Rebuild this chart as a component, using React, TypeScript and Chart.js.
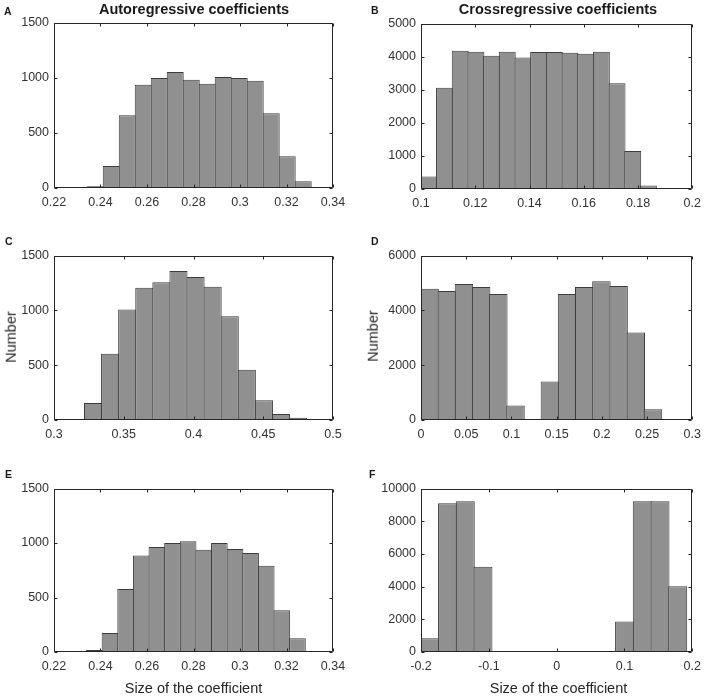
import React, { useEffect, useRef, useState } from "react";
import { Chart, registerables } from "chart.js";

Chart.register(...registerables);

// ---------- DATA ----------
// Panel A: autoregressive coefficients (histogram)
const aBinStart = 0.2343;
const aBinWidth = 0.00688;
const aCounts = [15, 199, 659, 936, 998, 1051, 980, 944, 1007, 998, 971, 677, 288, 62, 9];
const aXTicks = [0.22, 0.24, 0.26, 0.28, 0.3, 0.32, 0.34];
const aYTicks = [0, 500, 1000, 1500];

// Panel B: crossregressive coefficients
const bBinStart = 0.1;
const bBinWidth = 0.00578;
const bCounts = [376, 3059, 4178, 4148, 4029, 4148, 3970, 4138, 4138, 4118, 4089, 4148, 3198, 1148, 109];
const bXTicks = [0.1, 0.12, 0.14, 0.16, 0.18, 0.2];
const bYTicks = [0, 1000, 2000, 3000, 4000, 5000];

// Panel C
const cBinStart = 0.3096;
const cBinWidth = 0.01225;
const cCounts = [9, 156, 603, 1008, 1206, 1257, 1359, 1305, 1215, 945, 459, 180, 54, 21, 9];
const cXTicks = [0.3, 0.35, 0.4, 0.45, 0.5];
const cYTicks = [0, 500, 1000, 1500];

// Panel D
const dBinStart = 0;
const dBinWidth = 0.019;
const dCounts = [4788, 4704, 4956, 4848, 4596, 528, 0, 1404, 4596, 4848, 5064, 4884, 3192, 396, 36];
const dXTicks = [0, 0.05, 0.1, 0.15, 0.2, 0.25, 0.3];
const dYTicks = [0, 2000, 4000, 6000];

// Panel E
const eBinStart = 0.234;
const eBinWidth = 0.00672;
const eCounts = [18, 174, 579, 885, 963, 999, 1017, 939, 999, 945, 909, 792, 384, 126, 9];
const eXTicks = [0.22, 0.24, 0.26, 0.28, 0.3, 0.32, 0.34];
const eYTicks = [0, 500, 1000, 1500];

// Panel F
const fBinStart = -0.2;
const fBinWidth = 0.0261;
const fCounts = [840, 9100, 9220, 5220, 0, 0, 0, 0, 0, 0, 0, 1860, 9220, 9220, 4020];
const fXTicks = [-0.2, -0.1, 0, 0.1, 0.2];
const fYTicks = [0, 2000, 4000, 6000, 8000, 10000];

const columnTitles = ["Autoregressive coefficients", "Crossregressive coefficients"];
const panelLetters = ["A", "B", "C", "D", "E", "F"];
const yAxisLabel = "Number";
const xAxisLabel = "Size of the coefficient";

// ---------- STYLE / LAYOUT ----------
const FONT = "'Liberation Sans', Arial, Helvetica, sans-serif";
const BAR_FILL = "#909090";
const BAR_EDGE = "#3c3c3c";
const AXIS_COLOR = "#262626";
const TICK_TEXT = "#333333";

type PanelCfg = {
  start: number;
  width: number;
  counts: number[];
  xTicks: number[];
  yTicks: number[];
  L: number;
  T: number;
  R: number;
  B: number;
  padR: number;
};

const panels: PanelCfg[] = [
  { start: aBinStart, width: aBinWidth, counts: aCounts, xTicks: aXTicks, yTicks: aYTicks, L: 54, T: 20, R: 333, B: 188, padR: 20 },
  { start: bBinStart, width: bBinWidth, counts: bCounts, xTicks: bXTicks, yTicks: bYTicks, L: 421, T: 21, R: 697, B: 189, padR: 11 },
  { start: cBinStart, width: cBinWidth, counts: cCounts, xTicks: cXTicks, yTicks: cYTicks, L: 54, T: 253, R: 333, B: 420, padR: 20 },
  { start: dBinStart, width: dBinWidth, counts: dCounts, xTicks: dXTicks, yTicks: dYTicks, L: 421, T: 253, R: 697, B: 420, padR: 11 },
  { start: eBinStart, width: eBinWidth, counts: eCounts, xTicks: eXTicks, yTicks: eYTicks, L: 54, T: 486, R: 333, B: 652, padR: 20 },
  { start: fBinStart, width: fBinWidth, counts: fCounts, xTicks: fXTicks, yTicks: fYTicks, L: 421, T: 486, R: 697, B: 652, padR: 11 },
];

const Y_AXIS_W = 50;
const X_AXIS_H = 30;
const PAD_TOP = 10;

const fmt = (v: number) => String(Number(Number(v).toFixed(6)));

let lastError = "";

function drawBox(chart: any) {
  try {
    const { ctx, chartArea: a, scales } = chart;
    const TL = 3;
    ctx.save();
    ctx.strokeStyle = AXIS_COLOR;
    ctx.lineWidth = 1;
    const l = Math.round(a.left) + 0.5;
    const r = Math.round(a.right) - 0.5;
    const t = Math.round(a.top) + 0.5;
    const b = Math.round(a.bottom) - 0.5;
    ctx.beginPath();
    ctx.moveTo(l, t);
    ctx.lineTo(r, t);
    ctx.lineTo(r, b);
    ctx.lineTo(l, b);
    ctx.closePath();
    const xs = scales.x;
    const ys = scales.y;
    for (const tk of xs.ticks) {
      const x = Math.round(xs.getPixelForValue(tk.value)) + 0.5;
      ctx.moveTo(x, b);
      ctx.lineTo(x, b - TL);
      ctx.moveTo(x, t);
      ctx.lineTo(x, t + TL);
    }
    for (const tk of ys.ticks) {
      const y = Math.round(ys.getPixelForValue(tk.value)) + 0.5;
      ctx.moveTo(l, y);
      ctx.lineTo(l + TL, y);
      ctx.moveTo(r, y);
      ctx.lineTo(r - TL, y);
    }
    ctx.stroke();
    ctx.restore();
  } catch (e: any) {
    lastError = String(e && e.message ? e.message : e);
  }
}

const boxPlugin = {
  id: "boxTicks",
  afterDraw(chart: any) {
    drawBox(chart);
  },
};

function Panel({ cfg }: { cfg: PanelCfg }) {
  const ref = useRef<HTMLCanvasElement>(null);
  const w = cfg.R - cfg.L + Y_AXIS_W + cfg.padR;
  const h = cfg.B - cfg.T + PAD_TOP + X_AXIS_H;

  useEffect(() => {
    const counts = cfg.counts;
    const xMin = cfg.xTicks[0];
    const xMax = cfg.xTicks[cfg.xTicks.length - 1];
    const barPx = (cfg.width / (xMax - xMin)) * (cfg.R - cfg.L) + 1;
    const data = counts.map((c, i) => ({ x: cfg.start + (i + 0.5) * cfg.width, y: c }));
    const chart = new Chart(ref.current as HTMLCanvasElement, {
      type: "bar",
      data: {
        datasets: [
          {
            data: data as any,
            backgroundColor: BAR_FILL,
            borderColor: BAR_EDGE,
            borderWidth: { top: 1, left: 1, right: 1, bottom: 0 },
            borderSkipped: "start",
            inflateAmount: 0,
            barThickness: barPx,
          } as any,
        ],
      },
      options: {
        animation: false,
        responsive: false,
        devicePixelRatio: 1,
        events: [],
        layout: { padding: { left: 0, top: PAD_TOP, right: cfg.padR, bottom: 0 } },
        plugins: { legend: { display: false }, tooltip: { enabled: false }, title: { display: false } },
        scales: {
          x: {
            type: "linear",
            offset: false,
            min: xMin,
            max: xMax,
            afterBuildTicks: (scale: any) => {
              scale.ticks = cfg.xTicks.map((v) => ({ value: v }));
            },
            afterFit: (scale: any) => {
              scale.height = X_AXIS_H;
            },
            grid: { display: false, drawTicks: false, offset: false },
            border: { display: false },
            ticks: {
              autoSkip: false,
              maxRotation: 0,
              padding: 7,
              color: TICK_TEXT,
              font: { family: FONT, size: 12.5 },
              callback: (v: any) => fmt(v),
            },
          },
          y: {
            type: "linear",
            min: cfg.yTicks[0],
            max: cfg.yTicks[cfg.yTicks.length - 1],
            afterBuildTicks: (scale: any) => {
              scale.ticks = cfg.yTicks.map((v) => ({ value: v }));
            },
            afterFit: (scale: any) => {
              scale.width = Y_AXIS_W;
            },
            grid: { display: false, drawTicks: false },
            border: { display: false },
            ticks: {
              autoSkip: false,
              padding: 5,
              color: TICK_TEXT,
              font: { family: FONT, size: 12.5 },
              callback: (v: any) => fmt(v),
            },
          },
        },
      },
      plugins: [boxPlugin],
    } as any);
    return () => chart.destroy();
  }, []);

  return (
    <canvas
      ref={ref}
      width={w}
      height={h}
      style={{ position: "absolute", left: cfg.L - Y_AXIS_W, top: cfg.T - PAD_TOP, width: w, height: h, display: "block" }}
    />
  );
}

function Txt({
  text,
  x,
  baseline,
  size,
  bold,
  center,
  color,
}: {
  text: string;
  x: number;
  baseline: number;
  size: number;
  bold?: boolean;
  center?: boolean;
  color?: string;
}) {
  return (
    <div
      style={{
        position: "absolute",
        left: x,
        top: baseline - 0.8465 * size,
        fontFamily: FONT,
        fontSize: size,
        fontWeight: bold ? "bold" : "normal",
        lineHeight: 1,
        whiteSpace: "nowrap",
        color: color || "#1a1a1a",
        transform: center ? "translateX(-50%)" : undefined,
      }}
    >
      {text}
    </div>
  );
}

function VTxt({ text, cx, cy, size }: { text: string; cx: number; cy: number; size: number }) {
  return (
    <div
      style={{
        position: "absolute",
        left: cx,
        top: cy,
        fontFamily: FONT,
        fontSize: size,
        lineHeight: 1,
        whiteSpace: "nowrap",
        color: "#262626",
        transform: "translate(-50%, -50%) rotate(-90deg)",
      }}
    >
      {text}
    </div>
  );
}

const letterPos = [
  { x: 4, b: 15 },
  { x: 371, b: 14 },
  { x: 5, b: 245 },
  { x: 371, b: 245 },
  { x: 5, b: 478 },
  { x: 369, b: 478 },
];

function ErrorNote() {
  const [msg, setMsg] = useState("");
  useEffect(() => {
    const id = setTimeout(() => setMsg(lastError), 50);
    return () => clearTimeout(id);
  }, []);
  if (!msg) return null;
  return <div style={{ position: "absolute", left: 200, top: 340, color: "red", fontSize: 12 }}>{msg}</div>;
}

export default function App() {
  return (
    <div
      style={{
        position: "absolute",
        left: 0,
        top: 0,
        width: 708,
        height: 696,
        overflow: "hidden",
        background: "#ffffff",
      }}
    >
      {panels.map((p, i) => (
        <Panel key={i} cfg={p} />
      ))}
      <Txt text={columnTitles[0]} x={194} baseline={14} size={14.5} bold center />
      <Txt text={columnTitles[1]} x={558} baseline={14} size={14.5} bold center />
      {panelLetters.map((l, i) => (
        <Txt key={l} text={l} x={letterPos[i].x} baseline={letterPos[i].b} size={10.5} bold />
      ))}
      <VTxt text={yAxisLabel} cx={10.5} cy={336.5} size={14.5} />
      <VTxt text={yAxisLabel} cx={373} cy={336} size={14.5} />
      <Txt text={xAxisLabel} x={193.5} baseline={693} size={14.5} center color="#262626" />
      <Txt text={xAxisLabel} x={558.5} baseline={693} size={14.5} center color="#262626" />
      <ErrorNote />
    </div>
  );
}
